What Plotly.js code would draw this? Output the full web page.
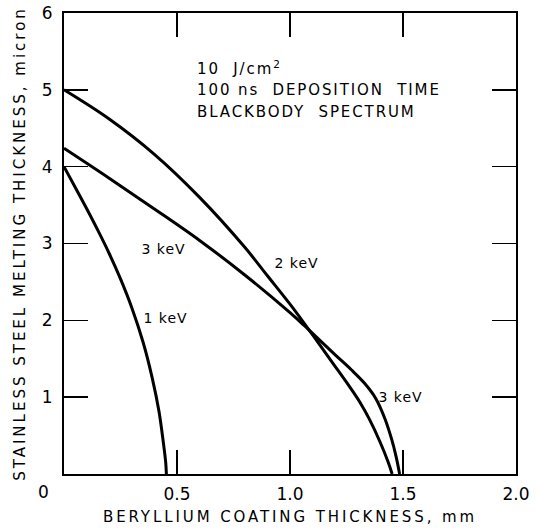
<!DOCTYPE html>
<html>
<head>
<meta charset="utf-8">
<script src="https://cdn.plot.ly/plotly-3.0.1.min.js"></script>
<style>
  html, body { margin: 0; padding: 0; background: #fff; }
  #chart { width: 537px; height: 532px; }
</style>
</head>
<body>
<div id="chart"></div>
<script>
// Beryllium coating thickness (mm) vs stainless steel melting thickness (micron)
const kev1X = [0, 0.05, 0.10, 0.15, 0.20, 0.25, 0.30, 0.35, 0.39, 0.42, 0.44, 0.45, 0.453];
const kev1Y = [4.0, 3.73, 3.455, 3.17, 2.87, 2.54, 2.165, 1.715, 1.255, 0.82, 0.40, 0.15, 0];

const kev2X = [0, 0.2, 0.4, 0.6, 0.8, 0.9, 1.0, 1.1, 1.19, 1.265, 1.31, 1.35, 1.398, 1.435, 1.452];
const kev2Y = [5.0, 4.62, 4.16, 3.6, 2.95, 2.58, 2.21, 1.81, 1.44, 1.13, 0.93, 0.72, 0.42, 0.15, 0];

const kev3X = [0, 0.2, 0.4, 0.6, 0.8, 1.0, 1.06, 1.13, 1.2, 1.27, 1.33, 1.38, 1.42, 1.45, 1.47, 1.485];
const kev3Y = [4.24, 3.85, 3.45, 3.04, 2.59, 2.10, 1.94, 1.745, 1.55, 1.36, 1.18, 0.98, 0.72, 0.45, 0.22, 0];

const xTickVals = [0.5, 1.0, 1.5, 2.0];
const xTickText = ['0.5', '1.0', '1.5', '2.0'];
const yTickVals = [1, 2, 3, 4, 5, 6];
const yTickText = ['1', '2', '3', '4', '5', '6'];

const curveLabels = ['1 keV', '2 keV', '3 keV', '3 keV'];
const noteLines = ['10\u00a0 J/cm<sup>2</sup>', '100 ns\u00a0 DEPOSITION\u00a0 TIME', 'BLACKBODY\u00a0 SPECTRUM'];

const FONT = 'DejaVu Sans, Arial, sans-serif';
const lineStyle = {color: '#000', width: 3, shape: 'spline', smoothing: 1};

const traces = [
  {x: kev1X, y: kev1Y, mode: 'lines', line: lineStyle, name: curveLabels[0], hoverinfo: 'skip'},
  {x: kev2X, y: kev2Y, mode: 'lines', line: lineStyle, name: curveLabels[1], hoverinfo: 'skip'},
  {x: kev3X, y: kev3Y, mode: 'lines', line: lineStyle, name: curveLabels[2], hoverinfo: 'skip'}
];

const axisCommon = {
  showgrid: false, zeroline: false,
  showline: true, linecolor: '#000', linewidth: 2,
  mirror: 'ticks', ticks: 'inside', ticklen: 24, tickwidth: 1.5, tickcolor: '#000',
  tickfont: {family: FONT, size: 17, color: '#000'},
  fixedrange: true
};

const ann = (text, x, y, opts) => Object.assign({
  text: text, x: x, y: y, xref: 'x', yref: 'y', showarrow: false,
  font: {family: FONT, size: 14, color: '#000'}
}, opts || {});

const noteFont = {family: FONT, size: 15, color: '#000'};

const layout = {
  width: 537, height: 532,
  margin: {l: 64, r: 21, t: 13, b: 58},
  paper_bgcolor: '#fff', plot_bgcolor: '#fff',
  showlegend: false,
  xaxis: Object.assign({}, axisCommon, {
    range: [0, 2], tickvals: xTickVals, ticktext: xTickText,
    ticklabelstandoff: 4,
    title: {text: 'BERYLLIUM COATING THICKNESS, mm', font: {family: FONT, size: 15, color: '#000'}, standoff: 8}
  }),
  yaxis: Object.assign({}, axisCommon, {
    range: [0, 6], tickvals: yTickVals, ticktext: yTickText,
    ticklabelstandoff: 6,
    title: {text: 'STAINLESS STEEL MELTING THICKNESS, micron', font: {family: FONT, size: 15, color: '#000'}, standoff: 13}
  }),
  annotations: [
    ann('0', 0, 0, {xshift: -21, yshift: -18, font: {family: FONT, size: 17, color: '#000'}}),
    ann(curveLabels[0], 0.452, 2.03, {xanchor: 'center'}),
    ann(curveLabels[1], 1.03, 2.75, {xanchor: 'center'}),
    ann(curveLabels[2], 0.442, 2.93, {xanchor: 'center'}),
    ann(curveLabels[3], 1.49, 1.0, {xanchor: 'center'}),
    ann(noteLines[0], 0.58, 5.29, {xanchor: 'left', align: 'left', font: noteFont}),
    ann(noteLines[1], 0.58, 5.0, {xanchor: 'left', align: 'left', font: noteFont}),
    ann(noteLines[2], 0.58, 4.71, {xanchor: 'left', align: 'left', font: noteFont})
  ]
};

Plotly.newPlot('chart', traces, layout, {displayModeBar: false, staticPlot: true}).then(function () {
  document.querySelectorAll('.xtitle').forEach(el => el.style.letterSpacing = '2.9px');
  document.querySelectorAll('.ytitle').forEach(el => el.style.letterSpacing = '3px');
  const annTexts = document.querySelectorAll('.annotation-text');
  annTexts.forEach((el, i) => {
    if (i >= 5) el.style.letterSpacing = '1.9px';
    else if (i >= 1) el.style.letterSpacing = '1px';
  });
});
</script>
</body>
</html>
